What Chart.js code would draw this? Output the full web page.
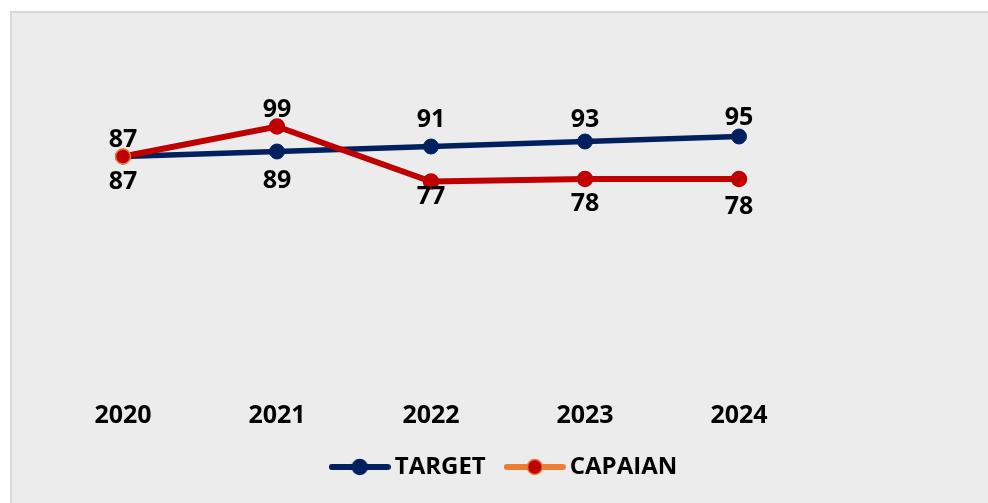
<!DOCTYPE html>
<html>
<head>
<meta charset="utf-8">
<script src="https://cdn.jsdelivr.net/npm/chart.js@4.4.1/dist/chart.umd.min.js"></script>
<style>
    html, body { margin: 0; padding: 0; background: #ffffff; overflow: hidden; }
    #wrap {
        position: absolute;
        left: 10px;
        top: 11px;
        width: 990px;
        height: 500px;
        background: #ececec;
        border-left: 2px solid #d9d9d9;
        border-top: 2px solid #d9d9d9;
    }
</style>
</head>
<body>
<div id="wrap"><canvas id="chart" width="990" height="500"></canvas></div>
<script>
    'use strict';

    // Data
    const years = ['2020', '2021', '2022', '2023', '2024'];
    const targetValues = [87, 89, 91, 93, 95];
    const capaianValues = [87, 99, 77, 78, 78];

    // Label offsets (px from point), negative = above
    const targetLabelDy = [25, 29, -27, -22, -19];
    const capaianLabelDy = [-17, -17, 15, 25, 28];

    const NAVY = '#002060';
    const RED = '#C00000';
    const ORANGE = '#ED7D31';
    const FONT = '"Open Sans", Lato, sans-serif';

    /**
     * Build a little "line + marker" image for the legend
     */
    function legendIcon(lineColor, fillColor, borderColor) {
        const c = document.createElement('canvas');
        c.width = 62;
        c.height = 18;
        const ctx = c.getContext('2d');
        ctx.strokeStyle = lineColor;
        ctx.lineWidth = 6;
        ctx.lineCap = 'round';
        ctx.beginPath();
        ctx.moveTo(3, 9);
        ctx.lineTo(59, 9);
        ctx.stroke();
        ctx.beginPath();
        ctx.arc(31, 9, 7.5, 0, Math.PI * 2);
        ctx.fillStyle = fillColor;
        ctx.fill();
        ctx.lineWidth = 1.5;
        ctx.strokeStyle = borderColor;
        ctx.stroke();
        return c;
    }

    const icons = [
        legendIcon(NAVY, NAVY, NAVY),
        legendIcon(ORANGE, RED, ORANGE)
    ];

    // Draw value labels above / below each point
    const valueLabels = {
        id: 'valueLabels',
        afterDatasetsDraw: function(chart) {
            const ctx = chart.ctx;
            const offsets = [targetLabelDy, capaianLabelDy];
            ctx.save();
            ctx.font = 'bold 25px ' + FONT;
            ctx.fillStyle = '#000000';
            ctx.textAlign = 'center';
            ctx.textBaseline = 'middle';
            chart.data.datasets.forEach(function(ds, i) {
                const meta = chart.getDatasetMeta(i);
                meta.data.forEach(function(pt, j) {
                    ctx.fillText(String(ds.data[j]), pt.x, pt.y + offsets[i][j]);
                });
            });
            ctx.restore();
        }
    };

    // invisible axis used only to reserve room
    function spacer(position, width) {
        return {
            position: position,
            display: true,
            grid: { display: false },
            border: { display: false },
            ticks: { display: false },
            afterFit: function(scale) { scale.width = width; }
        };
    }

    const yAxis = Object.assign(spacer('left', 34), { min: 0, max: 120 });
    const yRight = spacer('right', 186);

    new Chart(document.getElementById('chart'), {
        type: 'line',
        data: {
            labels: years,
            datasets: [{
                label: 'TARGET',
                data: targetValues,
                borderColor: NAVY,
                backgroundColor: NAVY,
                pointBackgroundColor: NAVY,
                pointBorderColor: NAVY,
                borderWidth: 5.5,
                pointRadius: 7.5,
                pointBorderWidth: 1,
                tension: 0,
                order: 1
            }, {
                label: 'CAPAIAN',
                data: capaianValues,
                borderColor: RED,
                backgroundColor: RED,
                pointBackgroundColor: RED,
                pointBorderColor: [ORANGE, RED, RED, RED, RED],
                borderWidth: 6,
                pointRadius: 7.5,
                pointBorderWidth: 1.5,
                tension: 0,
                order: 0
            }]
        },
        options: {
            responsive: false,
            animation: false,
            events: [],
            layout: {
                padding: { left: 0, right: 0, top: 61, bottom: 24 }
            },
            plugins: {
                legend: {
                    position: 'bottom',
                    labels: {
                        usePointStyle: true,
                        pointStyleWidth: 46,
                        color: '#000000',
                        padding: 26,
                        font: { family: FONT, size: 24, weight: 'bold' },
                        generateLabels: function(chart) {
                            return chart.data.datasets.map(function(ds, i) {
                                return {
                                    text: ds.label,
                                    pointStyle: icons[i],
                                    fillStyle: ds.borderColor,
                                    strokeStyle: ds.borderColor,
                                    lineWidth: 0,
                                    fontColor: '#000000',
                                    hidden: false,
                                    datasetIndex: i
                                };
                            });
                        }
                    }
                },
                tooltip: { enabled: false }
            },
            scales: {
                x: {
                    offset: true,
                    grid: { display: false, drawTicks: false },
                    border: { display: false },
                    ticks: {
                        padding: 27,
                        color: '#000000',
                        font: { family: FONT, size: 25, weight: 'bold' }
                    },
                    afterFit: function(scale) { scale.height = 55; }
                },
                y: yAxis,
                yRight: yRight
            }
        },
        plugins: [valueLabels]
    });
</script>
</body>
</html>
